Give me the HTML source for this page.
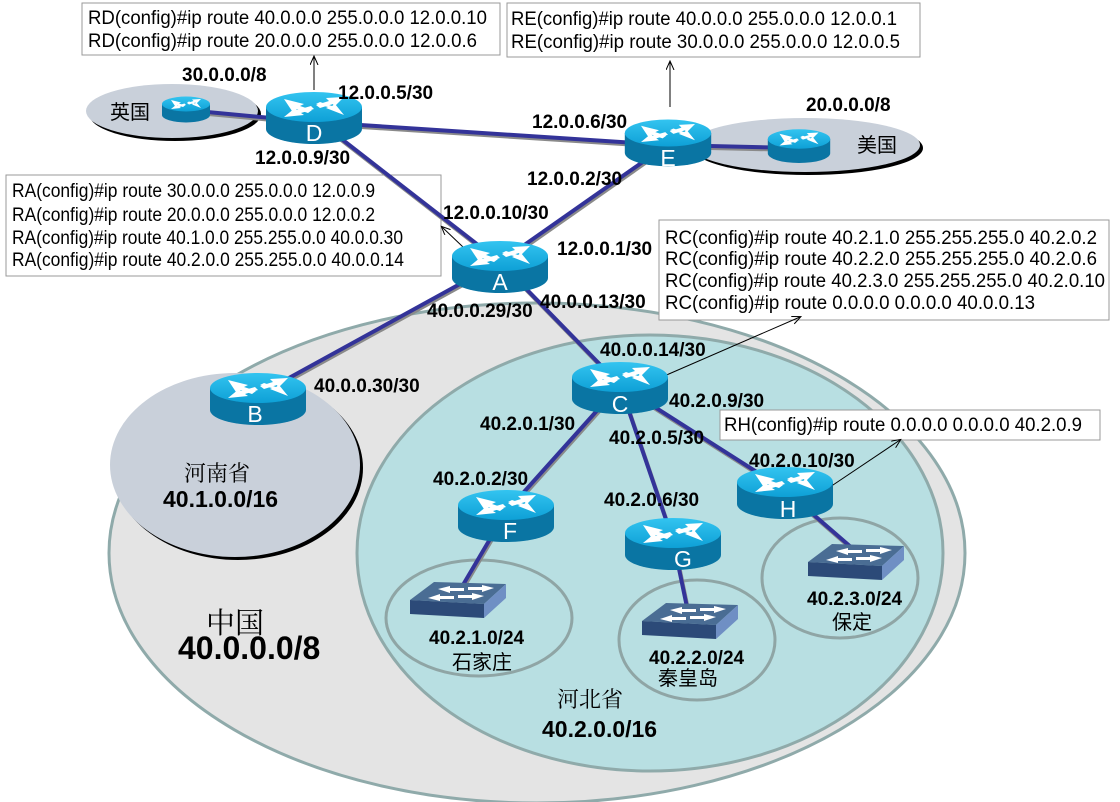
<!DOCTYPE html>
<html><head><meta charset="utf-8"><style>
html,body{margin:0;padding:0;background:#fff}
svg{display:block}
text{font-family:"Liberation Sans","Noto Sans CJK SC",sans-serif}
.b{font-weight:bold;font-size:19px}
.c{font-size:19px}
.z{font-family:"Liberation Serif","Noto Serif CJK SC","Noto Sans CJK SC",serif}
.rl{fill:#fff;font-size:23px;text-anchor:middle}
</style></head><body>
<svg width="1120" height="802" viewBox="0 0 1120 802" xmlns="http://www.w3.org/2000/svg">
<defs>
<linearGradient id="tg" x1="0" y1="0" x2="0" y2="1"><stop offset="0" stop-color="#33c4f0"/><stop offset="1" stop-color="#0ea0d6"/></linearGradient>
<g id="rt">
<path d="M-48,0 L-48,22 A48,15 0 0 0 48,22 L48,0 Z" fill="#0a75a3"/>
<ellipse cx="0" cy="0" rx="48" ry="15" fill="url(#tg)"/>
<g fill="#fff">
<polygon points="-30,-8 -10,-3 -14,-1 -2,3 -6,6 -18,2 -22,4"/>
<polygon points="30,-10 12,-9 15,-6 2,-2 6,1 19,-3 20,0"/>
<polygon points="-30,10 -10,8 -13,6 0,2 -3,-1 -17,3 -19,1"/>
<polygon points="30,8 12,1 14,0 2,-3 6,-5 18,-1 21,-3"/>
</g>
</g>
<g id="sw">
<polygon points="0,18 24,0 96,2 74,22" fill="#4a6d94"/>
<polygon points="0,18 74,22 74,36 0,32" fill="#2c4a78"/>
<polygon points="74,22 96,2 96,16 74,36" fill="#6f8fc4"/>
<g fill="#fff">
<polygon points="28,7 40,4 40,6 54,6 54,9 40,9 40,11"/>
<polygon points="84,6 72,3 72,5 58,5 58,8 72,8 72,10"/>
<polygon points="18,16 30,12 30,14 44,14 44,17 30,17 30,19"/>
<polygon points="74,14 62,11 62,13 48,13 48,16 62,16 62,18"/>
</g>
</g>
<marker id="ar" markerWidth="10" markerHeight="10" refX="8" refY="4" orient="auto" markerUnits="userSpaceOnUse"><path d="M0,0 L9,4 L0,8" fill="none" stroke="#000" stroke-width="1"/></marker>
</defs>

<ellipse cx="537" cy="553" rx="428" ry="250" fill="#e4e4e4" stroke="#8faaaa" stroke-width="3"/>
<ellipse cx="238" cy="468" rx="125" ry="92" fill="#000"/>
<ellipse cx="235" cy="465" rx="125" ry="92" fill="#c9d0da"/>
<ellipse cx="650" cy="553" rx="293" ry="218" fill="#b8dfe2" stroke="#8faaaa" stroke-width="3"/>
<ellipse cx="479" cy="618" rx="93" ry="58" fill="#b8dfe2" stroke="#8fa5a5" stroke-width="3"/>
<ellipse cx="697" cy="640" rx="78" ry="60" fill="#b8dfe2" stroke="#8fa5a5" stroke-width="3"/>
<ellipse cx="840" cy="578" rx="78" ry="60" fill="#b8dfe2" stroke="#8fa5a5" stroke-width="3"/>
<ellipse cx="175" cy="114" rx="86" ry="27" fill="#000"/>
<ellipse cx="172" cy="111" rx="86" ry="27" fill="#c9d0da"/>
<ellipse cx="808" cy="148" rx="115" ry="27" fill="#000"/>
<ellipse cx="805" cy="145" rx="115" ry="27" fill="#c9d0da"/>

<rect x="82" y="3" width="418" height="52" fill="#fff" stroke="#999"/>
<rect x="507" y="3" width="413" height="54" fill="#fff" stroke="#999"/>
<rect x="6" y="175" width="435" height="101" fill="#fff" stroke="#999"/>
<rect x="659" y="220" width="450" height="100" fill="#fff" stroke="#999"/>
<rect x="720" y="410" width="380" height="30" fill="#fff" stroke="#999"/>

<g stroke="#8a8a8a" stroke-width="4" transform="translate(1,2)">
<line x1="186" y1="110" x2="314" y2="122"/><line x1="314" y1="122" x2="667" y2="145"/>
<line x1="667" y1="145" x2="797" y2="148"/><line x1="330" y1="130" x2="500" y2="262"/>
<line x1="667" y1="145" x2="500" y2="262"/><line x1="500" y1="262" x2="258" y2="395"/>
<line x1="500" y1="262" x2="620" y2="385"/><line x1="620" y1="385" x2="506" y2="512"/>
<line x1="620" y1="385" x2="673" y2="540"/><line x1="620" y1="385" x2="785" y2="490"/>
<line x1="506" y1="512" x2="460" y2="590"/><line x1="673" y1="540" x2="688" y2="612"/>
<line x1="785" y1="490" x2="852" y2="548"/>
</g>
<g stroke="#333399" stroke-width="4">
<line x1="186" y1="110" x2="314" y2="122"/><line x1="314" y1="122" x2="667" y2="145"/>
<line x1="667" y1="145" x2="797" y2="148"/><line x1="330" y1="130" x2="500" y2="262"/>
<line x1="667" y1="145" x2="500" y2="262"/><line x1="500" y1="262" x2="258" y2="395"/>
<line x1="500" y1="262" x2="620" y2="385"/><line x1="620" y1="385" x2="506" y2="512"/>
<line x1="620" y1="385" x2="673" y2="540"/><line x1="620" y1="385" x2="785" y2="490"/>
<line x1="506" y1="512" x2="460" y2="590"/><line x1="673" y1="540" x2="688" y2="612"/>
<line x1="785" y1="490" x2="852" y2="548"/>
</g>

<g stroke="#000" stroke-width="1" fill="none">
<line x1="314" y1="90" x2="314" y2="57" marker-end="url(#ar)"/>
<line x1="670" y1="107" x2="670" y2="62" marker-end="url(#ar)"/>
<line x1="463" y1="247" x2="442" y2="227" marker-end="url(#ar)"/>
<line x1="655" y1="380" x2="800" y2="317" marker-end="url(#ar)"/>
<line x1="830" y1="487" x2="900" y2="440" marker-end="url(#ar)"/>
</g>

<use href="#rt" transform="translate(186,104) scale(0.5)"/>
<use href="#rt" transform="translate(799,139) scale(0.65)"/>
<use href="#rt" transform="translate(314,107)"/>
<use href="#rt" transform="translate(668,133) scale(0.9)"/>
<use href="#rt" transform="translate(500,256)"/>
<use href="#rt" transform="translate(258,388)"/>
<use href="#rt" transform="translate(620,377)"/>
<use href="#rt" transform="translate(506,505)"/>
<use href="#rt" transform="translate(673,533)"/>
<use href="#rt" transform="translate(785,482)"/>
<text class="rl" x="314" y="141">D</text>
<text class="rl" x="668" y="166">E</text>
<text class="rl" x="500" y="290">A</text>
<text class="rl" x="255" y="422">B</text>
<text class="rl" x="620" y="412">C</text>
<text class="rl" x="510" y="539">F</text>
<text class="rl" x="683" y="567">G</text>
<text class="rl" x="788" y="517">H</text>

<use href="#sw" transform="translate(410,582)"/>
<use href="#sw" transform="translate(642,603)"/>
<use href="#sw" transform="translate(808,544)"/>

<g class="c">
<text x="88" y="24" textLength="399" lengthAdjust="spacingAndGlyphs">RD(config)#ip route 40.0.0.0 255.0.0.0 12.0.0.10</text>
<text x="88" y="47" textLength="389" lengthAdjust="spacingAndGlyphs">RD(config)#ip route 20.0.0.0 255.0.0.0 12.0.0.6</text>
<text x="511" y="25" textLength="386" lengthAdjust="spacingAndGlyphs">RE(config)#ip route 40.0.0.0 255.0.0.0 12.0.0.1</text>
<text x="511" y="48" textLength="389" lengthAdjust="spacingAndGlyphs">RE(config)#ip route 30.0.0.0 255.0.0.0 12.0.0.5</text>
<text x="12" y="197" textLength="363" lengthAdjust="spacingAndGlyphs">RA(config)#ip route 30.0.0.0 255.0.0.0 12.0.0.9</text>
<text x="12" y="221" textLength="363" lengthAdjust="spacingAndGlyphs">RA(config)#ip route 20.0.0.0 255.0.0.0 12.0.0.2</text>
<text x="12" y="244" textLength="391" lengthAdjust="spacingAndGlyphs">RA(config)#ip route 40.1.0.0 255.255.0.0 40.0.0.30</text>
<text x="12" y="266" textLength="392" lengthAdjust="spacingAndGlyphs">RA(config)#ip route 40.2.0.0 255.255.0.0 40.0.0.14</text>
<text x="665" y="244" textLength="432" lengthAdjust="spacingAndGlyphs">RC(config)#ip route 40.2.1.0 255.255.255.0 40.2.0.2</text>
<text x="665" y="265" textLength="432" lengthAdjust="spacingAndGlyphs">RC(config)#ip route 40.2.2.0 255.255.255.0 40.2.0.6</text>
<text x="665" y="287" textLength="440" lengthAdjust="spacingAndGlyphs">RC(config)#ip route 40.2.3.0 255.255.255.0 40.2.0.10</text>
<text x="665" y="309" textLength="370" lengthAdjust="spacingAndGlyphs">RC(config)#ip route 0.0.0.0 0.0.0.0 40.0.0.13</text>
<text x="724" y="431" textLength="358" lengthAdjust="spacingAndGlyphs">RH(config)#ip route 0.0.0.0 0.0.0.0 40.2.0.9</text>
</g>

<g class="b">
<text x="182" y="81">30.0.0.0/8</text>
<text x="338" y="99">12.0.0.5/30</text>
<text x="255" y="164">12.0.0.9/30</text>
<text x="532" y="128">12.0.0.6/30</text>
<text x="806" y="111">20.0.0.0/8</text>
<text x="527" y="185">12.0.0.2/30</text>
<text x="443" y="219">12.0.0.10/30</text>
<text x="557" y="255">12.0.0.1/30</text>
<text x="427" y="317">40.0.0.29/30</text>
<text x="540" y="308">40.0.0.13/30</text>
<text x="600" y="356">40.0.0.14/30</text>
<text x="314" y="392">40.0.0.30/30</text>
<text x="669" y="407">40.2.0.9/30</text>
<text x="480" y="430">40.2.0.1/30</text>
<text x="609" y="444">40.2.0.5/30</text>
<text x="433" y="485">40.2.0.2/30</text>
<text x="604" y="506">40.2.0.6/30</text>
<text x="749" y="467">40.2.0.10/30</text>
<text x="429" y="644">40.2.1.0/24</text>
<text x="649" y="664">40.2.2.0/24</text>
<text x="807" y="605">40.2.3.0/24</text>
</g>
<g class="z" font-size="20">
<text x="452" y="669">石家庄</text>
<text x="658" y="685">秦皇岛</text>
<text x="832" y="629">保定</text>
<text x="110" y="119">英国</text>
<text x="857" y="152">美国</text>
</g>
<text class="z" x="557" y="707" font-size="22">河北省</text>
<text x="542" y="737" font-size="23" font-weight="bold">40.2.0.0/16</text>
<text class="z" x="184" y="481" font-size="22">河南省</text>
<text x="163" y="507" font-size="23" font-weight="bold">40.1.0.0/16</text>
<text class="z" x="206" y="633" font-size="29">中国</text>
<text x="178" y="659" font-size="32" font-weight="bold">40.0.0.0/8</text>
</svg>
</body></html>
